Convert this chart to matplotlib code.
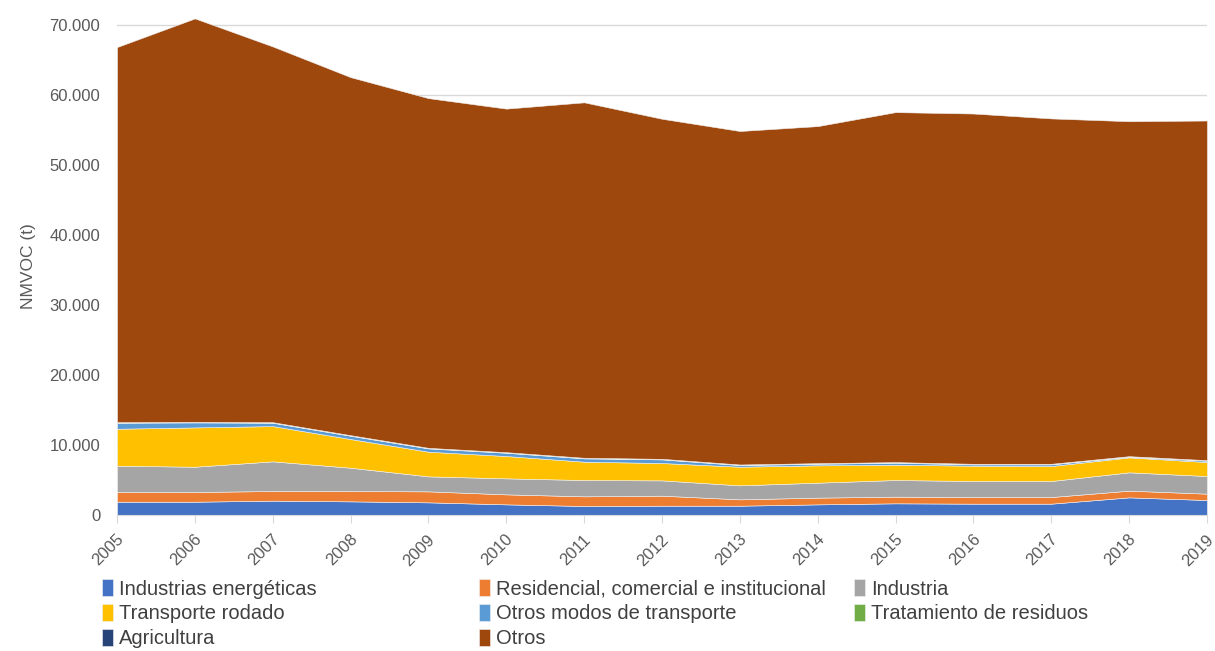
import matplotlib
matplotlib.use('Agg')
import matplotlib.pyplot as plt
import matplotlib.transforms as mtransforms
from matplotlib.ticker import FuncFormatter, MultipleLocator

years = list(range(2005, 2020))

series_names = [
    "Industrias energéticas",
    "Residencial, comercial e institucional",
    "Industria",
    "Transporte rodado",
    "Otros modos de transporte",
    "Tratamiento de residuos",
    "Agricultura",
    "Otros",
]

industrias_energeticas = [1900, 1900, 2050, 1950, 1810, 1520, 1290, 1330, 1330, 1520, 1670, 1620, 1620, 2520, 2140]
residencial = [1390, 1390, 1380, 1480, 1570, 1430, 1380, 1430, 910, 960, 950, 950, 950, 960, 910]
industria = [3760, 3610, 4240, 3330, 2140, 2290, 2330, 2190, 2000, 2140, 2380, 2290, 2290, 2620, 2520]
transporte_rodado = [5280, 5620, 5040, 4100, 3530, 3190, 2620, 2480, 2660, 2480, 2190, 2190, 2140, 2140, 2000]
otros_transporte = [860, 720, 480, 470, 470, 470, 480, 520, 240, 230, 290, 190, 240, 90, 190]
tratamiento_residuos = [50, 50, 50, 50, 50, 50, 50, 50, 50, 50, 50, 50, 50, 50, 50]
agricultura = [30, 30, 30, 30, 30, 30, 30, 30, 30, 30, 30, 30, 30, 30, 30]
otros = [53630, 57680, 53720, 51190, 50000, 49120, 50820, 48620, 47680, 48190, 50040, 50080, 49380, 47890, 48560]

colors = ["#4472C4", "#ED7D31", "#A5A5A5", "#FFC000", "#5B9BD5", "#70AD47", "#264478", "#9E480E"]

fig = plt.figure(figsize=(12.15, 6.51), dpi=100)
ax = fig.add_axes([0.0963, 0.2089, 0.8971, 0.765])

polys = ax.stackplot(years, industrias_energeticas, residencial, industria, transporte_rodado,
                     otros_transporte, tratamiento_residuos, agricultura, otros,
                     colors=colors, labels=series_names, edgecolor="#f2f2f2", linewidth=0.4)

ax.set_xlim(2005, 2019)
ax.set_ylim(0, 71200)
ax.yaxis.set_major_locator(MultipleLocator(10000))
ax.yaxis.set_major_formatter(FuncFormatter(lambda v, p: f"{int(v):,}".replace(",", ".")))
ax.set_xticks(years)
ax.set_xticklabels([str(y) for y in years], rotation=45, ha="right", rotation_mode="anchor")

ax.grid(axis="y", color="#d9d9d9", linewidth=1)
ax.set_axisbelow(True)
for side in ["top", "right", "left"]:
    ax.spines[side].set_visible(False)
ax.spines["bottom"].set_color("#d9d9d9")
ax.tick_params(axis="y", length=0, labelsize=12, labelcolor="#595959", pad=12)
ax.tick_params(axis="x", length=6, color="#d9d9d9", labelsize=12, labelcolor="#595959", pad=1)

# push the rotated year labels a little further below the axis
shift = mtransforms.ScaledTranslation(-1 / 100, -7 / 100, fig.dpi_scale_trans)
for lbl in ax.get_xticklabels():
    lbl.set_fontfamily(["Liberation Sans", "DejaVu Sans"])
    lbl.set_transform(lbl.get_transform() + shift)
for lbl in ax.get_yticklabels():
    lbl.set_fontfamily(["Liberation Sans", "DejaVu Sans"])
ax.set_ylabel("NMVOC (t)", fontsize=12.5, color="#595959", labelpad=10,
              family=["Liberation Sans", "DejaVu Sans"])

handles, labels = ax.get_legend_handles_labels()
# three equal-width legend columns, filled row by row
columns = [[0, 3, 6], [1, 4, 7], [2, 5]]
col_x = [0.0757, 0.3857, 0.6947]
for idx, x0 in zip(columns, col_x):
    leg = fig.legend([handles[i] for i in idx], [labels[i] for i in idx],
                     loc="upper left", bbox_to_anchor=(x0, 0.1257), frameon=False,
                     borderpad=0, handlelength=0.55, handleheight=0.9, handletextpad=0.3,
                     labelspacing=0.28,
                     prop={"family": ["Liberation Sans", "DejaVu Sans"], "size": 14.5})
    for t in leg.get_texts():
        t.set_color("#404040")

fig.savefig("out.png", dpi=100)
